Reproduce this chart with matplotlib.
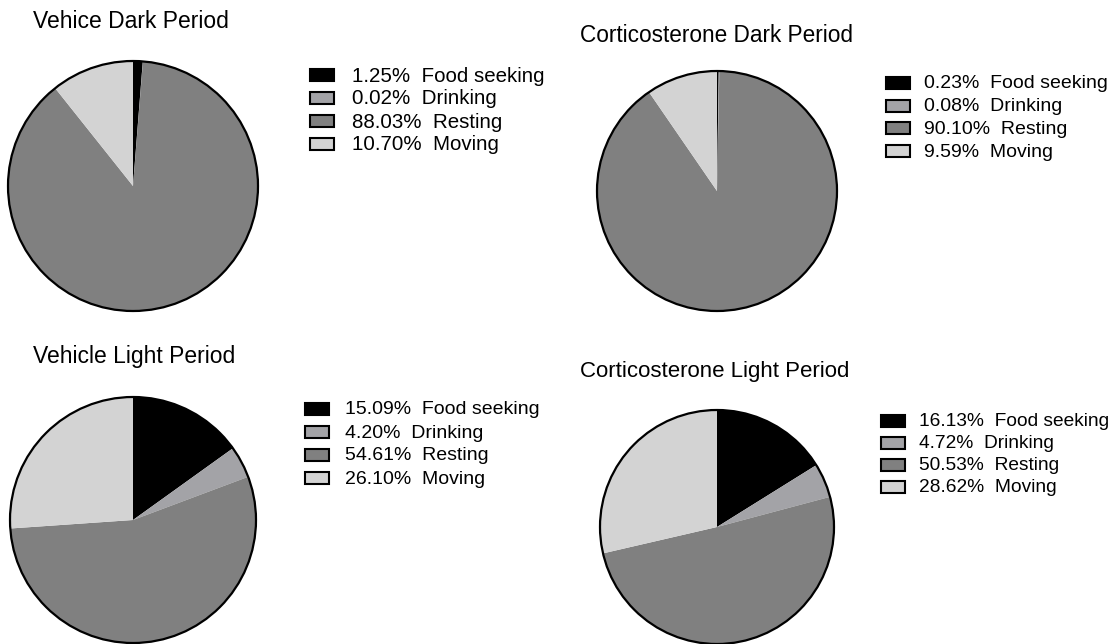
import matplotlib
matplotlib.use('Agg')
import matplotlib.pyplot as plt
from matplotlib.patches import Rectangle, Circle

plt.rcParams['font.family'] = ['Liberation Sans', 'DejaVu Sans']

W, H = 1118, 644

# Data
behaviours = ['Food seeking', 'Drinking', 'Resting', 'Moving']
colors = ['#000000', '#a3a3a7', '#808080', '#d3d3d3']

titles = ['Vehice Dark Period', 'Corticosterone Dark Period',
          'Vehicle Light Period', 'Corticosterone Light Period']
vehicle_dark = [1.25, 0.02, 88.03, 10.70]
cort_dark = [0.23, 0.08, 90.10, 9.59]
vehicle_light = [15.09, 4.20, 54.61, 26.10]
cort_light = [16.13, 4.72, 50.53, 28.62]
all_values = [vehicle_dark, cort_dark, vehicle_light, cort_light]

# Layout in pixels (from top-left): pie centre + radius, title, legend
pie_pos = [(133, 186, 125), (717, 191, 120), (133, 520, 123), (717, 527, 117)]
title_pos = [(33, 22), (580, 35), (33, 357), (580, 372)]
title_size = [16.5, 16.3, 16.5, 16.0]
legend_pos = [(310, 75), (886, 83), (305, 409), (881, 421)]
legend_gap = [42, 38, 40, 38]
legend_size = [14.8, 14, 14, 13.8]
row_pitch = [23, 22.7, 23, 22]

fig = plt.figure(figsize=(W / 100, H / 100), dpi=100)


def fx(x):
    return x / W


def fy(y):
    return 1 - y / H


for i in range(4):
    cx, cy, r = pie_pos[i]
    ax = fig.add_axes([fx(cx - r), fy(cy + r), 2 * r / W, 2 * r / H])
    ax.pie(all_values[i], colors=colors, startangle=90, counterclock=False,
           radius=1, wedgeprops=dict(linewidth=0))
    ax.add_patch(Circle((0, 0), 1, fill=False, ec='black', lw=1.6, clip_on=False))
    ax.set_xlim(-1, 1)
    ax.set_ylim(-1, 1)
    ax.axis('off')

    tx, ty = title_pos[i]
    fig.text(fx(tx), fy(ty), titles[i], fontsize=title_size[i], va='center', ha='left')

    lx, ly = legend_pos[i]
    for j, name in enumerate(behaviours):
        yy = ly + j * row_pitch[i]
        fig.patches.append(Rectangle((fx(lx), fy(yy + 6)), 24 / W, 12 / H,
                                     transform=fig.transFigure, fc=colors[j],
                                     ec='black', lw=1.5))
        label = '%.2f%%  %s' % (all_values[i][j], name)
        fig.text(fx(lx + legend_gap[i]), fy(yy + 1), label, fontsize=legend_size[i],
                 va='center', ha='left')

fig.savefig('out.png', dpi=100)
